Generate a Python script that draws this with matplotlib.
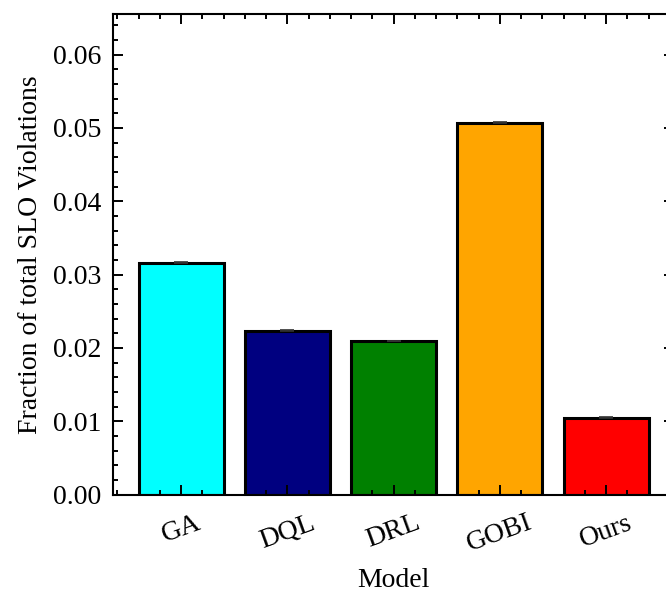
import matplotlib
matplotlib.use('Agg')
import matplotlib.pyplot as plt
from matplotlib.ticker import AutoMinorLocator, MultipleLocator

# Dados do gráfico
modelos = ['GA', 'DQL', 'DRL', 'GOBI', 'Ours']
violacoes = [0.03162, 0.02235, 0.02094, 0.05072, 0.01048]
erros = [0.00003, 0.00003, 0.00003, 0.00003, 0.00003]
cores = ['cyan', 'navy', 'green', 'orange', 'red']

plt.rcParams['font.family'] = ['Liberation Serif', 'DejaVu Serif']
plt.rcParams['mathtext.fontset'] = 'stix'

fig = plt.figure(figsize=(6.66, 5.97), dpi=100)
ax = fig.add_axes([113 / 666, 1 - 494.5 / 597, (674 - 113) / 666, (494.5 - 14) / 597])

x = list(range(len(modelos)))
ax.bar(x, violacoes, width=0.8, color=cores, edgecolor='black', linewidth=2.2,
       yerr=erros, capsize=5, error_kw={'ecolor': '#333333', 'elinewidth': 1.2, 'capthick': 1.2})

ax.set_ylim(0, 0.06555)
ax.set_xticks(x)
ax.set_xticklabels(modelos, rotation=20)
ax.yaxis.set_major_locator(MultipleLocator(0.01))
ax.yaxis.set_major_formatter(plt.FuncFormatter(lambda v, p: f'{v:.2f}'))
ax.xaxis.set_minor_locator(AutoMinorLocator(5))
ax.yaxis.set_minor_locator(AutoMinorLocator(5))

ax.tick_params(which='both', direction='in', top=True, right=True, labelsize=20)
ax.tick_params(which='major', length=7.5, width=1.4)
ax.tick_params(which='minor', length=3.6, width=1.4)
ax.tick_params(axis='y', pad=8.5)
ax.tick_params(axis='x', pad=11.5)
for sp in ax.spines.values():
    sp.set_linewidth(1.5)

ax.set_xlabel('Model', fontsize=20, labelpad=8)
ax.set_ylabel('Fraction of total SLO Violations', fontsize=20, labelpad=7)

fig.savefig('out.png', dpi=100)
